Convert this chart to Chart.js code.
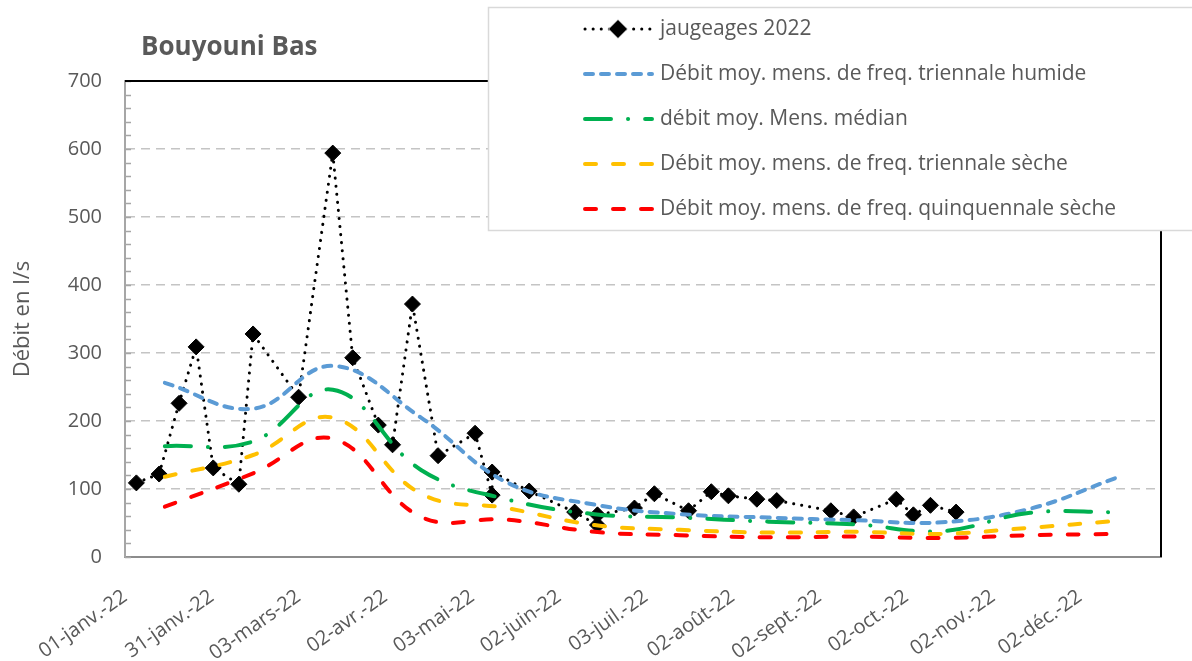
<!DOCTYPE html>
<html lang="fr">
<head>
<meta charset="UTF-8">
<title>Bouyouni Bas</title>
<script src="https://cdn.jsdelivr.net/npm/chart.js"></script>
<style>
  body { margin: 0; background: #fff; }
  #wrap { width: 1192px; height: 661px; }
</style>
</head>
<body>
<div id="wrap"><canvas id="debitChart"></canvas></div>
<script>
// axe des x : jours depuis le 01/01/2022, graduation tous les 30,5 jours
const tickDays = [0, 30.5, 61, 91.5, 122, 152.5, 183, 213.5, 244, 274.5, 305, 335.5];
const tickLabels = ['01-janv.-22', '31-janv.-22', '03-mars-22', '02-avr.-22', '03-mai-22', '02-juin-22',
                    '03-juil.-22', '02-août-22', '02-sept.-22', '02-oct.-22', '02-nov.-22', '02-déc.-22'];

// jaugeages 2022 (jour, l/s)
const gaugeDays  = [4, 12, 19, 25, 31, 40, 45, 61, 73, 80, 89, 94, 101, 110, 123, 129, 129, 142, 158,
                    166, 166, 179, 186, 198, 206, 212, 222, 229, 248, 256, 271, 277, 283, 292];
const gaugeFlows = [109, 122, 226, 309, 131, 107, 328, 235, 594, 293, 194, 165, 372, 149, 182, 91, 125, 97, 66,
                    47, 62, 72, 93, 68, 96, 90, 85, 83, 68, 59, 85, 62, 76, 66];

// débits moyens mensuels (placés au 15 de chaque mois)
const monthDays = [14, 45, 73, 104, 134, 165, 195, 226, 257, 287, 318, 348];
const wetTriennial    = [256, 218, 281, 205, 110, 77, 63, 58, 54, 51, 71, 116];
const medianFlow      = [163, 170, 246, 128, 85, 63, 58, 52, 48, 38, 65, 66];
const dryTriennial    = [118, 150, 205, 93, 72, 47, 40, 36, 37, 34, 43, 53];
const dryQuinquennial = [74, 123, 174, 59, 55, 37, 32, 29, 30, 28, 32, 34];

const seriesNames = [
  'jaugeages 2022',
  'Débit moy. mens. de freq. triennale humide',
  'débit moy. Mens. médian',
  'Débit moy. mens. de freq. triennale sèche',
  'Débit moy. mens. de freq. quinquennale sèche'
];

const FONT = '"Open Sans", sans-serif';
const TXT = '#595959';

function toPoints(xs, ys) {
  return xs.map((x, i) => ({ x: x, y: ys[i] }));
}

function curve(label, ys, color, dash, order) {
  return {
    label: label,
    data: toPoints(monthDays, ys),
    borderColor: color,
    backgroundColor: color,
    borderWidth: 4,
    borderDash: dash,
    borderCapStyle: 'round',
    pointRadius: 0,
    tension: 0.4,
    order: order
  };
}

// bordure haut/droite du tracé et petites graduations de l'axe y
const framePlugin = {
  id: 'frame',
  beforeDatasetsDraw(chart) {
    const { ctx, chartArea: a, scales: { y } } = chart;
    ctx.save();
    ctx.strokeStyle = '#a6a6a6';
    ctx.lineWidth = 1.5;
    ctx.beginPath();
    for (let v = y.min; v <= y.max; v += 20) {
      const py = Math.round(y.getPixelForValue(v)) + 0.5;
      ctx.moveTo(a.left, py);
      ctx.lineTo(a.left + 6, py);
    }
    ctx.stroke();
    ctx.strokeStyle = '#000';
    ctx.lineWidth = 2;
    ctx.beginPath();
    ctx.moveTo(a.left, a.top);
    ctx.lineTo(a.right, a.top);
    ctx.lineTo(a.right, a.bottom);
    ctx.stroke();
    ctx.restore();
  }
};

// titre et légende dessinés par-dessus, comme dans Excel
const overlayPlugin = {
  id: 'overlay',
  afterDraw(chart) {
    const ctx = chart.ctx;
    ctx.save();
    ctx.fillStyle = TXT;
    ctx.font = 'bold 26px ' + FONT;
    ctx.textBaseline = 'alphabetic';
    ctx.fillText('Bouyouni Bas', 141, 55);

    // cadre de légende
    ctx.fillStyle = '#fff';
    ctx.fillRect(488, 7, 720, 223);
    ctx.strokeStyle = '#d9d9d9';
    ctx.lineWidth = 1.5;
    ctx.strokeRect(488.5, 7.5, 720, 223);

    ctx.font = '21px ' + FONT;
    ctx.textBaseline = 'middle';
    chart.data.datasets.forEach((ds, i) => {
      const yy = 29 + 45 * i;
      ctx.save();
      ctx.strokeStyle = ds.borderColor;
      ctx.lineWidth = ds.borderWidth;
      ctx.lineCap = 'round';
      ctx.setLineDash(ds.borderDash);
      ctx.beginPath();
      ctx.moveTo(585, yy);
      ctx.lineTo(652, yy);
      ctx.stroke();
      ctx.restore();
      if (ds.pointRadius > 0) {
        Chart.helpers.drawPoint(ctx, {
          pointStyle: ds.pointStyle, radius: 9, borderWidth: 1,
          rotation: 0
        }, 618, yy);
        ctx.fillStyle = '#000';
        ctx.fill();
      }
      ctx.fillStyle = TXT;
      ctx.fillText(ds.label, 660, yy);
    });
    ctx.restore();
  }
};

const chart = new Chart(document.getElementById('debitChart'), {
  type: 'line',
  data: {
    datasets: [
      {
        label: seriesNames[0],
        data: toPoints(gaugeDays, gaugeFlows),
        borderColor: '#000',
        backgroundColor: '#000',
        borderWidth: 3,
        borderDash: [0.1, 8],
        borderCapStyle: 'round',
        pointStyle: 'rectRot',
        pointRadius: 8,
        pointBorderWidth: 1,
        tension: 0,
        order: 4
      },
      curve(seriesNames[1], wetTriennial, '#5b9bd5', [8, 8], 3),
      curve(seriesNames[2], medianFlow, '#00b050', [26, 17, 0.1, 17], 2),
      curve(seriesNames[3], dryTriennial, '#ffc000', [11, 17], 1),
      curve(seriesNames[4], dryQuinquennial, '#ff0000', [11, 17], 0)
    ]
  },
  options: {
    responsive: true,
    maintainAspectRatio: false,
    animation: false,
    layout: { padding: { top: 81, right: 31, left: 0, bottom: 0 } },
    plugins: {
      legend: { display: false },
      tooltip: { enabled: false }
    },
    scales: {
      x: {
        type: 'linear',
        min: 0,
        max: 364,
        afterBuildTicks: (scale) => {
          scale.ticks = tickDays.map(v => ({ value: v }));
        },
        afterFit: (scale) => { scale.height = 104; },
        grid: { display: false },
        border: { color: '#8c8c8c', width: 2 },
        ticks: {
          autoSkip: false,
          minRotation: 35,
          maxRotation: 35,
          padding: 20,
          color: TXT,
          font: { family: FONT, size: 20 },
          callback: (v, i) => tickLabels[i]
        }
      },
      y: {
        min: 0,
        max: 700,
        afterFit: (scale) => { scale.width = 125; },
        grid: { color: '#c4c4c4', lineWidth: 1.5, drawTicks: false },
        border: { color: '#a6a6a6', width: 2, dash: [9, 6] },
        ticks: {
          stepSize: 100,
          padding: 23,
          color: TXT,
          font: { family: FONT, size: 20 }
        },
        title: {
          display: true,
          text: 'Débit en l/s',
          color: TXT,
          font: { family: FONT, size: 22 },
          padding: { top: 10, bottom: 0 }
        }
      }
    }
  },
  plugins: [framePlugin, overlayPlugin]
});
</script>
</body>
</html>
